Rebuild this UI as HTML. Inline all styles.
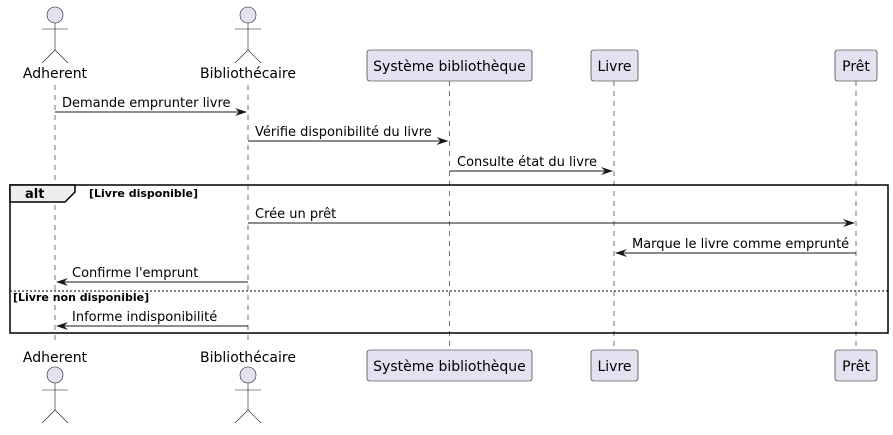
<!DOCTYPE html>
<html><head><meta charset="utf-8"><style>
html,body{margin:0;padding:0;background:#fff}
svg text{font-family:"DejaVu Sans","Liberation Sans",sans-serif;fill:#000}
</style></head><body>
<svg width="893" height="430" viewBox="0 0 893 430" xmlns="http://www.w3.org/2000/svg">
<g stroke="#181818" stroke-width="0.6" stroke-dasharray="5,5">
<line x1="55" y1="85" x2="55" y2="345"/>
<line x1="248" y1="85" x2="248" y2="345"/>
<line x1="449.5" y1="81" x2="449.5" y2="350"/>
<line x1="614" y1="81" x2="614" y2="350"/>
<line x1="856" y1="81" x2="856" y2="350"/>
</g>
<!-- actors top -->
<g fill="#E2E2F0" stroke="#181818" stroke-width="0.6">
<circle cx="55" cy="15" r="8"/><circle cx="248" cy="15" r="8"/>
<circle cx="55" cy="375" r="8"/><circle cx="248" cy="375" r="8"/>
</g>
<g stroke="#181818" stroke-width="0.6" fill="none">
<path d="M55 23V50M42 29H68M55 50L42 63M55 50L68 63"/>
<path d="M248 23V50M235 29H261M248 50L235 63M248 50L261 63"/>
<path d="M55 383V410M42 390H68M55 410L42 423M55 410L68 423"/>
<path d="M248 383V410M235 390H261M248 410L235 423M248 410L261 423"/>
</g>
<g font-size="14">
<text x="55" y="78" text-anchor="middle">Adherent</text>
<text x="248" y="78" text-anchor="middle">Bibliothécaire</text>
<text x="55" y="362" text-anchor="middle">Adherent</text>
<text x="248" y="362" text-anchor="middle">Bibliothécaire</text>
</g>
<g fill="#E2E2F0" stroke="#181818" stroke-width="0.6">
<rect x="367" y="50" width="165" height="31" rx="2.5"/>
<rect x="591" y="50" width="47" height="31" rx="2.5"/>
<rect x="835" y="50" width="42" height="31" rx="2.5"/>
<rect x="367" y="350" width="165" height="31" rx="2.5"/>
<rect x="591" y="350" width="47" height="31" rx="2.5"/>
<rect x="835" y="350" width="42" height="31" rx="2.5"/>
</g>
<g font-size="14" text-anchor="middle">
<text x="449.5" y="71">Système bibliothèque</text>
<text x="614.5" y="71">Livre</text>
<text x="856" y="71">Prêt</text>
<text x="449.5" y="371">Système bibliothèque</text>
<text x="614.5" y="371">Livre</text>
<text x="856" y="371">Prêt</text>
</g>
<!-- frame -->
<rect x="10" y="185" width="878" height="148" fill="none" stroke="#000" stroke-width="1.5"/>
<path d="M10 185H75V192L65 202H10Z" fill="#EEEEEE" stroke="#000" stroke-width="1.5"/>
<text x="25" y="198" font-size="13" font-weight="bold">alt</text>
<text x="89" y="197" font-size="11" font-weight="bold">[Livre disponible]</text>
<line x1="10" y1="291" x2="888" y2="291" stroke="#000" stroke-width="1" stroke-dasharray="2,2"/>
<text x="13" y="301" font-size="11" font-weight="bold">[Livre non disponible]</text>
<!-- messages -->
<g stroke="#181818" stroke-width="1" fill="none">
<line x1="55" y1="112" x2="246" y2="112"/>
<line x1="248" y1="141" x2="447" y2="141"/>
<line x1="449.5" y1="171" x2="612" y2="171"/>
<line x1="248" y1="223" x2="854" y2="223"/>
<line x1="616" y1="253" x2="856" y2="253"/>
<line x1="57" y1="282" x2="248" y2="282"/>
<line x1="57" y1="326" x2="248" y2="326"/>
</g>
<g fill="#181818">
<path d="M247 112L235 108L239 112L235 116Z"/>
<path d="M448.5 141L436.5 137L440.5 141L436.5 145Z"/>
<path d="M613 171L601 167L605 171L601 175Z"/>
<path d="M855 223L843 219L847 223L843 227Z"/>
<path d="M615 253L627 249L623 253L627 257Z"/>
<path d="M56 282L68 278L64 282L68 286Z"/>
<path d="M56 326L68 322L64 326L68 330Z"/>
</g>
<g font-size="13">
<text x="62" y="107">Demande emprunter livre</text>
<text x="255" y="136">Vérifie disponibilité du livre</text>
<text x="457" y="166">Consulte état du livre</text>
<text x="255" y="218">Crée un prêt</text>
<text x="632" y="248">Marque le livre comme emprunté</text>
<text x="72" y="277">Confirme l'emprunt</text>
<text x="72" y="321">Informe indisponibilité</text>
</g>
</svg>
</body></html>
